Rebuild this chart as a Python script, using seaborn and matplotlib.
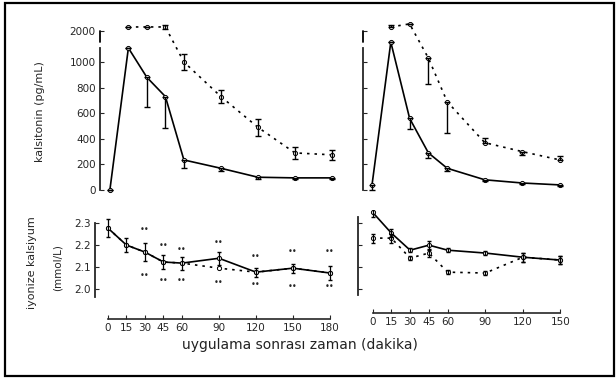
import numpy as np
import pandas as pd
import matplotlib
matplotlib.use("Agg")
import matplotlib.pyplot as plt
import seaborn as sns
from matplotlib.patches import Rectangle

sns.set_theme(style="white")
plt.rcParams['font.family'] = ['DejaVu Sans']

# ---------------- data ----------------
time_left = [0, 15, 30, 45, 60, 90, 120, 150, 180]
time_right = [0, 15, 30, 45, 60, 90, 120, 150]
xtick_left = ["0", "15", "30", "45", "60", "90", "120", "150", "180"]
xtick_right = ["0", "15", "30", "45", "60", "90", "120", "150"]

calc_left_solid = [0, 1160, 880, 730, 235, 170, 100, 95, 95]
calc_left_dashed = [np.nan, 2200, 2200, 2200, 1000, 730, 490, 290, 275]
calc_left_solid_lo = [0, 0, 235, 245, 60, 20, 15, 10, 10]
calc_left_dashed_err = [0, 0, 0, 110, 60, 50, 65, 45, 40]

calc_right_solid = [40, 1450, 560, 290, 170, 80, 55, 40]
calc_right_dashed = [np.nan, 2200, 2350, 1030, 690, 370, 300, 235]
calc_right_solid_lo = [40, 0, 80, 40, 20, 10, 10, 10]
calc_right_dashed_lo = [0, 0, 0, 200, 245, 0, 30, 0]
calc_right_dashed_hi = [0, 120, 0, 0, 0, 40, 0, 30]

ca_left_solid = [2.277, 2.200, 2.168, 2.123, 2.118, 2.140, 2.077, 2.095, 2.073]
ca_left_dashed = [2.277, 2.200, 2.168, 2.123, 2.118, 2.095, 2.077, 2.095, 2.073]
ca_left_err = [0.04, 0.03, 0.04, 0.03, 0.03, 0.03, 0.02, 0.02, 0.03]

ca_right_solid = [2.350, 2.255, 2.177, 2.200, 2.177, 2.164, 2.145, 2.132]
ca_right_dashed = [2.232, 2.232, 2.141, 2.164, 2.077, 2.073, 2.145, 2.132]
ca_right_err = [0.02, 0.02, 0.01, 0.02, 0.01, 0.01, 0.02, 0.02]

# significance marks (bottom-left)
sig_x = [30, 30, 45, 45, 60, 60, 90, 90, 120, 120, 150, 150, 180, 180]
sig_y = [2.27, 2.06, 2.20, 2.04, 2.18, 2.04, 2.21, 2.03, 2.15, 2.02, 2.17, 2.01, 2.17, 2.01]

calc_ticks = [0, 200, 400, 600, 800, 1000, 2000]
calc_ticklabels = ["0", "200", "400", "600", "800", "1000", "2000"]
ca_ticks = [2.0, 2.1, 2.2, 2.3]
ca_ticklabels = ["2.0", "2.1", "2.2", "2.3"]

# --------------- helpers ---------------
BREAK = 1100.0
K = 0.158


def fwd(v):
    v = np.asarray(v, dtype=float)
    return np.where(v <= BREAK, v, BREAK + (v - BREAK) * K)


def inv(t):
    t = np.asarray(t, dtype=float)
    return np.where(t <= BREAK, t, BREAK + (t - BREAK) / K)


W, H = 616, 380
fig = plt.figure(figsize=(W / 100, H / 100), dpi=100)


def rect(l, r, top, bot):
    return [l / W, 1 - bot / H, (r - l) / W, (bot - top) / H]


ax_tl = fig.add_axes(rect(100, 344.3, 22.3, 192.6))
ax_tr = fig.add_axes(rect(363, 572.5, 22.3, 192.6))
ax_bl = fig.add_axes(rect(95, 342.3, 218, 297))
ax_br = fig.add_axes(rect(358, 573, 210, 295))

dash_map = {"a": "", "b": (1.5, 3.0)}


def draw_lines(ax, t, s, d):
    df = pd.DataFrame({
        "t": list(t) + list(t),
        "v": list(s) + list(d),
        "grp": ["a"] * len(t) + ["b"] * len(t),
    })
    sns.lineplot(data=df, x="t", y="v", style="grp", dashes=dash_map,
                 color="black", linewidth=1.2, legend=False, ax=ax,
                 markers={"a": "o", "b": "o"}, markersize=3,
                 markerfacecolor="white", markeredgecolor="black",
                 markeredgewidth=0.7)


# ---- top-left ----
draw_lines(ax_tl, time_left, calc_left_solid, calc_left_dashed)
ax_tl.errorbar(time_left, calc_left_solid, yerr=[calc_left_solid_lo, [0] * 9],
               fmt="none", ecolor="black", elinewidth=1.0, capsize=2)
ax_tl.errorbar(time_left, calc_left_dashed, yerr=calc_left_dashed_err,
               fmt="none", ecolor="black", elinewidth=1.0, capsize=2)

# ---- top-right ----
draw_lines(ax_tr, time_right, calc_right_solid, calc_right_dashed)
ax_tr.errorbar(time_right, calc_right_solid, yerr=[calc_right_solid_lo, [0] * 8],
               fmt="none", ecolor="black", elinewidth=1.0, capsize=2)
ax_tr.errorbar(time_right, calc_right_dashed,
               yerr=[calc_right_dashed_lo, calc_right_dashed_hi],
               fmt="none", ecolor="black", elinewidth=1.0, capsize=2)

for ax, xl in ((ax_tl, (-8, 190)), (ax_tr, (-7.2, 160))):
    ax.set_yscale("function", functions=(fwd, inv))
    ax.set_ylim(-20, 2430)
    ax.set_xlim(*xl)
    ax.set_yticks(calc_ticks)
    ax.spines[["top", "right", "bottom"]].set_visible(False)
    ax.spines["left"].set_bounds(0, 1150)
    ax.spines["left"].set_linewidth(1.3)
    ax.set_xticks([])
    ax.set_xlabel("")
    ax.set_ylabel("")
    ax.tick_params(axis="y", direction="in", length=3, width=0.8,
                   labelsize=7.5, pad=3, left=True)
    # upper segment of the broken axis
    ax.plot([0, 0], [1450, 2000], transform=ax.get_yaxis_transform(),
            color="black", lw=1.3, clip_on=False)

ax_tl.set_yticklabels(calc_ticklabels)
ax_tr.set_yticklabels([])

# ---- bottom-left ----
draw_lines(ax_bl, time_left, ca_left_solid, ca_left_dashed)
ax_bl.errorbar(time_left, ca_left_solid, yerr=ca_left_err,
               fmt="none", ecolor="black", elinewidth=0.9, capsize=1.5)
for x, y in zip(sig_x, sig_y):
    ax_bl.text(x, y, "••", fontsize=6, ha="center", va="center")

# ---- bottom-right ----
draw_lines(ax_br, time_right, ca_right_solid, ca_right_dashed)
ax_br.errorbar(time_right, ca_right_solid, yerr=ca_right_err,
               fmt="none", ecolor="black", elinewidth=0.9, capsize=1.5)
ax_br.errorbar(time_right, ca_right_dashed, yerr=ca_right_err,
               fmt="none", ecolor="black", elinewidth=0.9, capsize=1.5)

for ax, xl, yl, tks, tkl, out in (
        (ax_bl, (-10.5, 190), (1.964, 2.323), time_left, xtick_left, 16),
        (ax_br, (-11.6, 160), (1.973, 2.36), time_right, xtick_right, 13)):
    ax.set_xlim(*xl)
    ax.set_ylim(*yl)
    ax.spines[["top", "right"]].set_visible(False)
    ax.spines["left"].set_bounds(yl[0], 2.30 if ax is ax_bl else 2.33)
    ax.spines["left"].set_linewidth(1.3)
    ax.spines["bottom"].set_position(("outward", out))
    ax.spines["bottom"].set_bounds(tks[0], tks[-1])
    ax.spines["bottom"].set_linewidth(1.2)
    ax.set_xticks(tks)
    ax.set_xticklabels(tkl)
    ax.set_yticks(ca_ticks)
    ax.set_xlabel("")
    ax.set_ylabel("")
    ax.tick_params(axis="both", direction="in", length=3, width=0.8,
                   labelsize=7.5, pad=3, left=True, bottom=True)

ax_bl.set_yticklabels(ca_ticklabels)
ax_br.set_yticklabels([])

# ---- labels ----
fig.text(40 / W, 1 - 112 / H, "kalsitonin (pg/mL)", rotation=90,
         ha="center", va="center", fontsize=8)
fig.text(32 / W, 1 - 263 / H, "iyonize kalsiyum", rotation=90,
         ha="center", va="center", fontsize=8)
fig.text(58 / W, 1 - 268 / H, "(mmol/L)", rotation=90,
         ha="center", va="center", fontsize=7.5)
fig.text(300 / W, 1 - 345 / H, "uygulama sonrası zaman (dakika)",
         ha="center", va="center", fontsize=10, color="#222222")

# frame around the figure
fig.patches.append(Rectangle((5 / W, 4 / H), 609 / W, 373 / H,
                             transform=fig.transFigure, fill=False,
                             edgecolor="black", linewidth=1.6))

fig.savefig("out.png", dpi=100)
